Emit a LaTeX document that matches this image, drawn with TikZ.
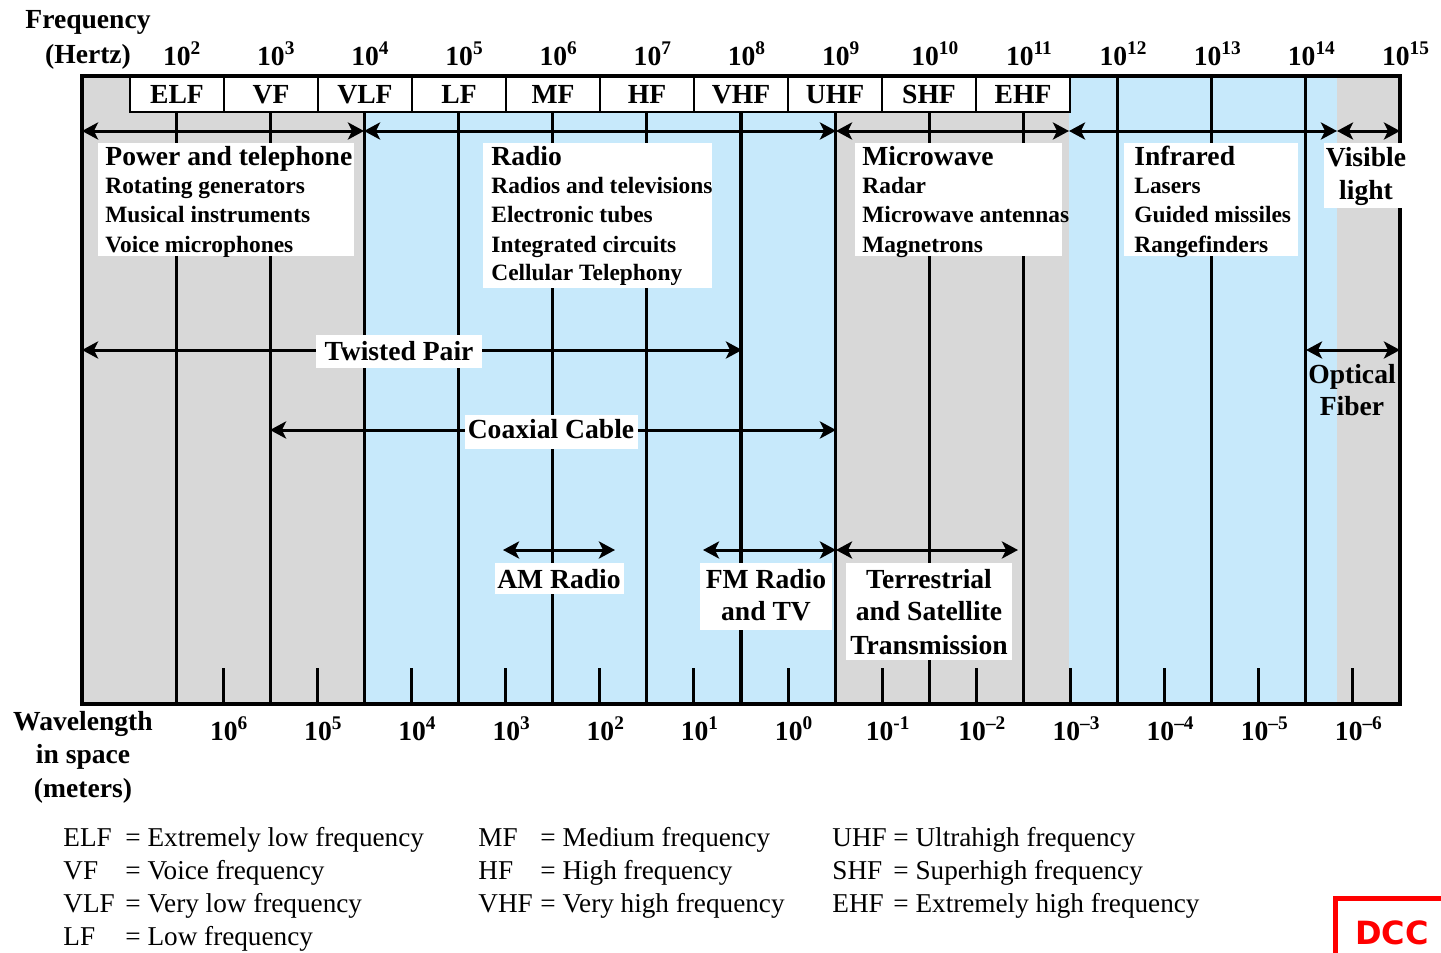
\documentclass[tikz,border=0pt]{standalone}
\usepackage{fontspec}
\setmainfont{Liberation Serif}
\newfontfamily\dccfont{DejaVu Sans}
\usetikzlibrary{arrows.meta}
\definecolor{bggray}{RGB}{216,216,216}
\definecolor{bgblue}{RGB}{199,233,251}
\definecolor{dccred}{RGB}{255,0,0}
\newcommand\ftitle{\fontsize{13.8}{16}\selectfont\bfseries}
\newcommand\fitem{\fontsize{11.7}{14}\selectfont\bfseries}
\newcommand\flegend{\fontsize{13.6}{16}\selectfont}
\tikzset{
  frameline/.style={line width=1.7pt},
  vline/.style={line width=1.6pt},
  tickline/.style={line width=1.5pt},
  bandbox/.style={draw, line width=1pt, fill=white, minimum width=47pt, minimum height=17.5pt, inner sep=0pt, anchor=north west, font=\ftitle},
  wbox/.style={fill=white, inner sep=0pt, anchor=north west},
  conn/.style={line width=1.5pt, {Stealth[length=8pt,width=8.5pt,inset=2pt]}-{Stealth[length=8pt,width=8.5pt,inset=2pt]}},
  ttl/.style={inner sep=0pt, anchor=base west, font=\ftitle},
  itm/.style={inner sep=0pt, anchor=base west, font=\fitem},
  ctl/.style={inner sep=0pt, anchor=base, font=\ftitle},
  lab/.style={inner sep=0pt, anchor=base, font=\ftitle},
  leg/.style={inner sep=0pt, anchor=base west, font=\flegend},
}
\begin{document}
\begin{tikzpicture}[x=0.5pt,y=-0.5pt]
\useasboundingbox (0,0) rectangle (1441,953);
\clip (0,0) rectangle (1441,953);
% backgrounds
\fill[bggray] (82,76) rectangle (364,704);
\fill[bgblue] (364,76) rectangle (836,704);
\fill[bggray] (836,76) rectangle (1069,704);
\fill[bgblue] (1069,76) rectangle (1337,706);
\fill[bggray] (1337,76) rectangle (1400,704);
% long decade lines
\foreach \i in {1,...,10} \draw[vline] ({82+\i*94.143},111) -- ({82+\i*94.143},704);
\foreach \i in {11,...,13} \draw[vline] ({82+\i*94.143},76) -- ({82+\i*94.143},704);
% short ticks
\foreach \i in {1,...,13} \draw[tickline] ({82+(\i+0.5)*94.143},668) -- ({82+(\i+0.5)*94.143},704);
% frame
\draw[frameline] (82,76) rectangle (1400,704);
% band boxes
\foreach \n [count=\j from 0] in {ELF,VF,VLF,LF,MF,HF,VHF,UHF,SHF,EHF}
  \node[bandbox] (b\n) at ({129+\j*94},76) {\n};
% coordinates for connectors
\coordinate (r1a) at (82,131);  \coordinate (r1b) at (364,131);
\coordinate (r1c) at (836,131); \coordinate (r1d) at (1069,131);
\coordinate (r1e) at (1337,131); \coordinate (r1f) at (1400,131);
\coordinate (tpa) at (82,350);  \coordinate (tpb) at (742,350);
\coordinate (cxa) at (270,430); \coordinate (cxb) at (836,430);
\coordinate (ama) at (503,550); \coordinate (amb) at (615,550);
\coordinate (fma) at (703,550); \coordinate (fmb) at (836,550);
\coordinate (tra) at (836,550); \coordinate (trb) at (1018,550);
\coordinate (ofa) at (1306,350); \coordinate (ofb) at (1400,350);
% connectors
\draw[conn] (r1a) -- (r1b);
\draw[conn] (r1b) -- (r1c);
\draw[conn] (r1c) -- (r1d);
\draw[conn] (r1d) -- (r1e);
\draw[conn] (r1e) -- (r1f);
\draw[conn] (tpa) -- (tpb);
\draw[conn] (cxa) -- (cxb);
\draw[conn] (ama) -- (amb);
\draw[conn] (fma) -- (fmb);
\draw[conn] (tra) -- (trb);
\draw[conn] (ofa) -- (ofb);
% white boxes
\node[wbox, minimum width=128pt, minimum height=56.5pt] (pbox) at (98,143) {};
\node[wbox, minimum width=114.5pt, minimum height=72.5pt] (rbox) at (483,143) {};
\node[wbox, minimum width=103.5pt, minimum height=56.5pt] (mbox) at (855,143) {};
\node[wbox, minimum width=87pt, minimum height=56.5pt] (ibox) at (1124,143) {};
\node[wbox, minimum width=39.5pt, minimum height=32.5pt] (vbox) at (1324,143) {};
\node[wbox, minimum width=83pt, minimum height=16.5pt] (tbox) at (316,335) {};
\node[wbox, minimum width=86.5pt, minimum height=17pt] (cbox) at (465,415) {};
\node[wbox, minimum width=64.5pt, minimum height=15.5pt] (abox) at (495,563) {};
\node[wbox, minimum width=66pt, minimum height=33.5pt] (fbox) at (700,563) {};
\node[wbox, minimum width=83pt, minimum height=48.5pt] (sbox) at (846,563) {};
% category texts
\node[ttl] (pt1) at (105,165) {Power and telephone};
\node[itm] (pt2) at (105,193) {Rotating generators};
\node[itm] (pt3) at (105,222) {Musical instruments};
\node[itm] (pt4) at (105,252) {Voice microphones};
\node[ttl] (ra1) at (491,165) {Radio};
\node[itm] (ra2) at (491,193) {Radios and televisions};
\node[itm] (ra3) at (491,222) {Electronic tubes};
\node[itm] (ra4) at (491,252) {Integrated circuits};
\node[itm] (ra5) at (491,280) {Cellular Telephony};
\node[ttl] (mw1) at (862,165) {Microwave};
\node[itm] (mw2) at (862,193) {Radar};
\node[itm] (mw3) at (862,222) {Microwave antennas};
\node[itm] (mw4) at (862,252) {Magnetrons};
\node[ttl] (ir1) at (1134,165) {Infrared};
\node[itm] (ir2) at (1134,193) {Lasers};
\node[itm] (ir3) at (1134,222) {Guided missiles};
\node[itm] (ir4) at (1134,252) {Rangefinders};
\node[ctl] (vl1) at (1366,166) {Visible};
\node[ctl] (vl2) at (1366,199) {light};
% medium texts
\node[ctl] (tp) at (399,360) {Twisted Pair};
\node[ctl] (cx) at (551,438) {Coaxial Cable};
\node[ctl] (am) at (559,588) {AM Radio};
\node[ctl] (fm1) at (766,588) {FM Radio};
\node[ctl] (fm2) at (766,620) {and TV};
\node[ctl] (ts1) at (929,588) {Terrestrial};
\node[ctl] (ts2) at (929,620) {and Satellite};
\node[ctl] (ts3) at (929,654) {Transmission};
\node[ctl] (of1) at (1352,383) {Optical};
\node[ctl] (of2) at (1352,415) {Fiber};
% axis titles
\node[lab] (fq1) at (88,28) {Frequency};
\node[lab] (fq2) at (88,63) {(Hertz)};
\node[lab] (wl1) at (83,730) {Wavelength};
\node[lab] (wl2) at (83,763) {in space};
\node[lab] (wl3) at (83,797) {(meters)};
% frequency labels
\foreach \i in {1,...,14} {
  \pgfmathtruncatemacro{\e}{\i+1}
  \node[lab] (f\e) at ({82+\i*94.143+6},65) {10\textsuperscript{\e}};
}
% wavelength labels
\foreach \e [count=\k] in {6,5,4,3,2,1,0,-1,\textendash2,\textendash3,\textendash4,\textendash5,\textendash6}
  \node[lab] (w\k) at ({82+(\k+0.5)*94.143+6},740) {10\textsuperscript{\e}};
% legend
\foreach \a/\d/\x/\xx/\y [count=\k] in {
  ELF/Extremely low frequency/63/125/846,
  VF/Voice frequency/63/125/879,
  VLF/Very low frequency/63/125/912,
  LF/Low frequency/63/125/945,
  MF/Medium frequency/478/540/846,
  HF/High frequency/478/540/879,
  VHF/Very high frequency/478/540/912,
  UHF/Ultrahigh frequency/832/893/846,
  SHF/Superhigh frequency/832/893/879,
  EHF/Extremely high frequency/832/893/912} {
  \node[leg] (la\k) at (\x,\y) {\a};
  \node[leg] (ld\k) at (\xx,\y) {= \d};
}
% DCC mark
\draw[dccred, line width=2.5pt] (1335,970) -- (1335,898) -- (1460,898);
\node[anchor=base west, inner sep=0pt, text=dccred, font=\dccfont\fontsize{16}{18}\selectfont\bfseries] (dcc) at (1355,944) {DCC};
\end{tikzpicture}
\end{document}
